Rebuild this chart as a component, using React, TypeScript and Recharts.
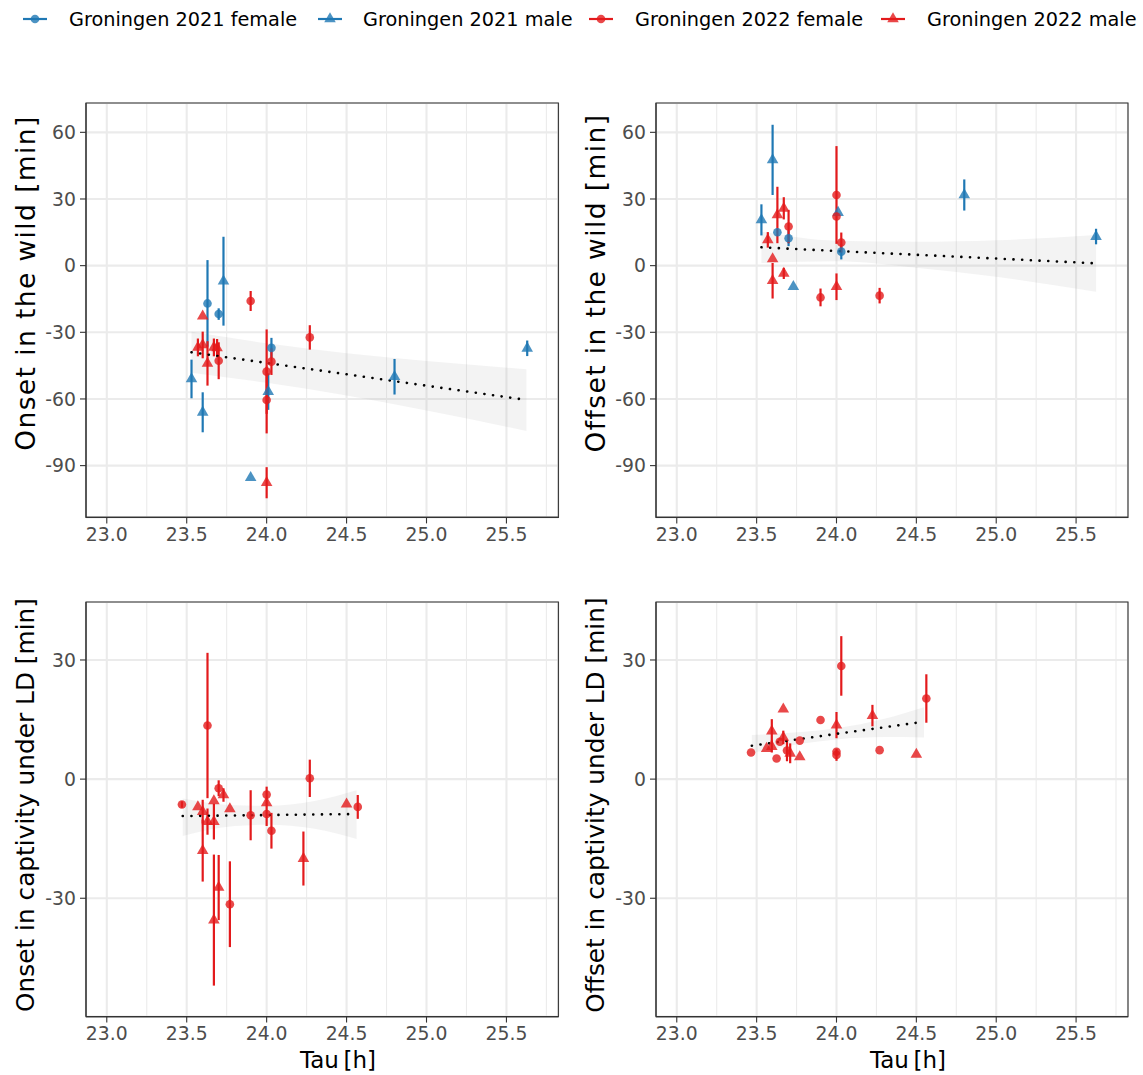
import React from 'react';
import { ComposedChart, Scatter, XAxis, YAxis, CartesianGrid, ErrorBar, Line, Area, ReferenceArea } from 'recharts';

const BLUE = '#1F78B4';
const RED = '#E31A1C';
const FONT = '"DejaVu Sans", sans-serif';

// ---- axis ticks ----
const X_TICKS = [23, 23.5, 24, 24.5, 25, 25.5];
const X_MINOR = [23.25, 23.75, 24.25, 24.75, 25.25, 25.75];
const X_DOMAIN = [22.87, 25.825];
const Y_TICKS_WILD = [-90, -60, -30, 0, 30, 60];
const Y_DOMAIN_WILD = [-113.3, 73.2];
const Y_TICKS_LD = [-30, 0, 30];
const Y_DOMAIN_LD = [-59.8, 44.6];

// ---- Onset in the wild ----
const onsetWild2021F = [
  { x: 23.63, y: -17, e: 19.5 },
  { x: 23.70, y: -21.8, e: 2.6 },
  { x: 24.03, y: -37, e: 4.5 },
];
const onsetWild2021M = [
  { x: 23.53, y: -51, e: 8.7 },
  { x: 23.60, y: -66, e: 9 },
  { x: 23.73, y: -7, e: 20 },
  { x: 23.90, y: -95.4, e: 0 },
  { x: 24.01, y: -56.7, e: 8.2 },
  { x: 24.80, y: -50, e: 8 },
  { x: 25.63, y: -37.2, e: 3.5 },
];
const onsetWild2022F = [
  { x: 23.70, y: -42.8, e: 8.3 },
  { x: 23.90, y: -15.9, e: 4.5 },
  { x: 24.00, y: -47.7, e: 19 },
  { x: 24.00, y: -60.5, e: 15 },
  { x: 24.03, y: -43.2, e: 6 },
  { x: 24.27, y: -32.3, e: 5.5 },
];
const onsetWild2022M = [
  { x: 23.57, y: -36.8, e: 4 },
  { x: 23.60, y: -22.7, e: 0 },
  { x: 23.60, y: -35.7, e: 6 },
  { x: 23.63, y: -44, e: 10 },
  { x: 23.67, y: -36.8, e: 4 },
  { x: 23.69, y: -37, e: 4 },
  { x: 24.00, y: -97.7, e: 7 },
];
const onsetWildFit = [
  { x: 23.53, fit: -39, band: [-48.2, -29.8] },
  { x: 24.0, fit: -43.8, band: [-52.7, -34.9] },
  { x: 24.5, fit: -48.9, band: [-58.4, -39.4] },
  { x: 25.0, fit: -54.05, band: [-65.2, -42.9] },
  { x: 25.625, fit: -60.45, band: [-74.4, -46.6] },
];

// ---- Offset in the wild ----
const offsetWild2021F = [
  { x: 23.63, y: 15.0, e: 0 },
  { x: 23.70, y: 12.3, e: 3.5 },
  { x: 24.03, y: 6.3, e: 3.5 },
];
const offsetWild2021M = [
  { x: 23.53, y: 20.6, e: 7 },
  { x: 23.60, y: 47.6, e: 15.8 },
  { x: 23.73, y: -9.5, e: 0 },
  { x: 24.01, y: 23.9, e: 0 },
  { x: 24.80, y: 31.8, e: 7 },
  { x: 25.625, y: 13.1, e: 3.5 },
];
const offsetWild2022F = [
  { x: 23.70, y: 17.6, e: 7.5 },
  { x: 23.90, y: -14.3, e: 4 },
  { x: 24.00, y: 31.8, e: 22 },
  { x: 24.00, y: 22.1, e: 0 },
  { x: 24.03, y: 10.4, e: 4.5 },
  { x: 24.27, y: -13.5, e: 3.5 },
];
const offsetWild2022M = [
  { x: 23.57, y: 11.6, e: 3.5 },
  { x: 23.60, y: 3.0, e: 0 },
  { x: 23.60, y: -6.8, e: 8 },
  { x: 23.63, y: 22.8, e: 12.7 },
  { x: 23.67, y: 25.8, e: 5 },
  { x: 23.67, y: -3.5, e: 2.5 },
  { x: 24.00, y: -9.5, e: 6 },
];
const offsetWildFit = [
  { x: 23.53, fit: 8.25, band: [1.2, 15.3] },
  { x: 24.0, fit: 6.6, band: [2.0, 11.2] },
  { x: 24.5, fit: 4.9, band: [-0.9, 10.7] },
  { x: 25.0, fit: 3.2, band: [-5.0, 11.4] },
  { x: 25.625, fit: 1.05, band: [-11.7, 13.8] },
];

// ---- Onset in captivity under LD ----
const onsetLD2022F = [
  { x: 23.47, y: -6.4, e: 0.8 },
  { x: 23.63, y: 13.5, e: 18.3 },
  { x: 23.70, y: -2.3, e: 2 },
  { x: 23.77, y: -31.5, e: 10.8 },
  { x: 23.90, y: -9.1, e: 6.3 },
  { x: 24.00, y: -3.9, e: 2 },
  { x: 24.00, y: -8.8, e: 3 },
  { x: 24.03, y: -13.0, e: 4.5 },
  { x: 24.27, y: 0.2, e: 4.7 },
  { x: 24.57, y: -7.0, e: 3 },
];
const onsetLD2022M = [
  { x: 23.57, y: -7.0, e: 0 },
  { x: 23.60, y: -8.2, e: 3 },
  { x: 23.60, y: -18.0, e: 7.8 },
  { x: 23.63, y: -10.7, e: 3.3 },
  { x: 23.67, y: -5.5, e: 0 },
  { x: 23.67, y: -10.7, e: 4.5 },
  { x: 23.67, y: -35.5, e: 16.5 },
  { x: 23.70, y: -27.3, e: 8.2 },
  { x: 23.73, y: -4.0, e: 1.7 },
  { x: 23.77, y: -7.5, e: 0 },
  { x: 24.00, y: -6.0, e: 0 },
  { x: 24.23, y: -20.0, e: 6.8 },
  { x: 24.50, y: -6.3, e: 0 },
];
const onsetLDFit = [
  { x: 23.475, fit: -9.3, band: [-14.3, -4.9] },
  { x: 23.8, fit: -9.15, band: [-11.8, -6.6] },
  { x: 24.0, fit: -9.05, band: [-11.5, -6.7] },
  { x: 24.3, fit: -8.9, band: [-12.5, -5.5] },
  { x: 24.5625, fit: -8.8, band: [-15.1, -2.8] },
];

// ---- Offset in captivity under LD ----
const offsetLD2022F = [
  { x: 23.465, y: 6.7, e: 0 },
  { x: 23.625, y: 5.2, e: 0 },
  { x: 23.645, y: 9.4, e: 0 },
  { x: 23.69, y: 7.2, e: 2.7 },
  { x: 23.77, y: 9.7, e: 0 },
  { x: 23.90, y: 14.9, e: 0 },
  { x: 24.00, y: 6.9, e: 0 },
  { x: 24.00, y: 6.1, e: 1.5 },
  { x: 24.03, y: 28.5, e: 7.5 },
  { x: 24.27, y: 7.3, e: 0 },
  { x: 24.5625, y: 20.3, e: 6.1 },
];
const offsetLD2022M = [
  { x: 23.5625, y: 7.7, e: 0 },
  { x: 23.595, y: 12.1, e: 3 },
  { x: 23.595, y: 8.2, e: 1.5 },
  { x: 23.667, y: 17.6, e: 0 },
  { x: 23.667, y: 10.5, e: 1.7 },
  { x: 23.71, y: 6.5, e: 2.5 },
  { x: 23.77, y: 5.6, e: 0 },
  { x: 24.00, y: 13.6, e: 3.3 },
  { x: 24.225, y: 16.0, e: 2.7 },
  { x: 24.50, y: 6.2, e: 0 },
];
const offsetLDFit = [
  { x: 23.47, fit: 8.4, band: [6.6, 11.1] },
  { x: 23.8, fit: 10.25, band: [9.0, 11.9] },
  { x: 24.0, fit: 11.4, band: [10.0, 12.8] },
  { x: 24.3, fit: 13.05, band: [10.6, 15.2] },
  { x: 24.548, fit: 14.45, band: [10.5, 18.1] },
];

const LEGEND = [
  { label: 'Groningen 2021 female', color: BLUE, shape: 'circle' },
  { label: 'Groningen 2021 male', color: BLUE, shape: 'triangle' },
  { label: 'Groningen 2022 female', color: RED, shape: 'circle' },
  { label: 'Groningen 2022 male', color: RED, shape: 'triangle' },
];

const R = 4.3;

function makeShape(color: string, shape: string) {
  return (p: any) => {
    const { cx, cy } = p;
    if (cx == null || cy == null) return <g />;
    if (shape === 'circle') {
      return <circle cx={cx} cy={cy} r={R} fill={color} fillOpacity={0.8} />;
    }
    const r = 1.5551 * R;
    const xc = 1.3468 * R;
    const yc = 0.7776 * R;
    return (
      <polygon
        points={`${cx},${cy - r} ${cx + xc},${cy + yc} ${cx - xc},${cy + yc}`}
        fill={color}
        fillOpacity={0.8}
      />
    );
  };
}

type Series = { data: any[]; color: string; shape: string };

function Panel(props: {
  L: number; T: number; W: number; H: number;
  yDomain: number[]; yTicks: number[]; series: Series[]; fit: any[];
}) {
  const { L, T, W, H, yDomain, yTicks, series, fit } = props;
  const ML = 20, YW = 60, MT = 10, MR = 10, XH = 40;
  const tickStyle = { fill: '#4D4D4D', fontSize: 18.8, fontFamily: FONT };
  return (
    <div style={{ position: 'absolute', left: L - ML - YW, top: T - MT }}>
      <ComposedChart
        width={W + ML + YW + MR}
        height={H + MT + XH}
        data={fit}
        margin={{ top: MT, right: MR, bottom: 0, left: ML }}
      >
        <XAxis xAxisId="minor" type="number" dataKey="x" domain={X_DOMAIN} ticks={X_MINOR} hide allowDataOverflow />
        <CartesianGrid xAxisId="minor" horizontal={false} stroke="#EBEBEB" strokeWidth={1.1} />
        <CartesianGrid stroke="#EBEBEB" strokeWidth={2.1} />
        <XAxis
          type="number"
          dataKey="x"
          domain={X_DOMAIN}
          ticks={X_TICKS}
          interval={0}
          allowDataOverflow
          height={XH}
          tickFormatter={(v: number) => v.toFixed(1)}
          tick={tickStyle}
          tickSize={6}
          tickMargin={4}
          stroke="#333333"
          axisLine={{ stroke: '#333333', strokeWidth: 1.1 }}
          tickLine={{ stroke: '#333333', strokeWidth: 1.1 }}
        />
        <YAxis
          type="number"
          dataKey="y"
          domain={yDomain}
          ticks={yTicks}
          interval={0}
          allowDataOverflow
          width={YW}
          tick={tickStyle}
          tickSize={6}
          tickMargin={4}
          stroke="#333333"
          axisLine={{ stroke: '#333333', strokeWidth: 1.1 }}
          tickLine={{ stroke: '#333333', strokeWidth: 1.1 }}
        />
        <Area
          dataKey="band"
          type="monotone"
          fill="#999999"
          fillOpacity={0.12}
          stroke="none"
          isAnimationActive={false}
          activeDot={false}
        />
        {series.map((s, i) => (
          <Scatter
            key={i}
            data={s.data}
            fill={s.color}
            shape={makeShape(s.color, s.shape)}
            isAnimationActive={false}
          >
            <ErrorBar dataKey="e" direction="y" width={0} stroke={s.color} strokeWidth={2.2} />
          </Scatter>
        ))}
        <Line
          dataKey="fit"
          type="linear"
          stroke="#000000"
          strokeWidth={2.6}
          strokeDasharray="0.1 8.6"
          strokeLinecap="round"
          dot={false}
          activeDot={false}
          isAnimationActive={false}
        />
        <ReferenceArea
          x1={X_DOMAIN[0]}
          x2={X_DOMAIN[1]}
          y1={yDomain[0]}
          y2={yDomain[1]}
          fill="none"
          stroke="#333333"
          strokeWidth={1.1}
          ifOverflow="visible"
        />
      </ComposedChart>
    </div>
  );
}

function LegendItem({ item, mx, tx }: { item: any; mx: number; tx: number }) {
  const shapeFn = makeShape(item.color, item.shape);
  return (
    <>
      <svg style={{ position: 'absolute', left: mx - 14, top: 5 }} width={28} height={28}>
        <line x1={2} y1={14} x2={26} y2={14} stroke={item.color} strokeWidth={2.2} />
        {shapeFn({ cx: 14, cy: 14 })}
      </svg>
      <div
        style={{
          position: 'absolute',
          left: tx,
          top: 19,
          transform: 'translateY(-50%)',
          fontFamily: FONT,
          fontSize: 19.3,
          color: '#000',
          whiteSpace: 'nowrap',
        }}
      >
        {item.label}
      </div>
    </>
  );
}

function VTitle({ text, cx, cy, size, spacing }: { text: string; cx: number; cy: number; size: number; spacing: number }) {
  return (
    <div
      style={{
        position: 'absolute',
        left: cx,
        top: cy,
        transform: 'translate(-50%, -50%) rotate(-90deg)',
        fontFamily: FONT,
        fontSize: size,
        letterSpacing: spacing,
        color: '#000',
        whiteSpace: 'nowrap',
        lineHeight: 1,
      }}
    >
      {text}
    </div>
  );
}

function HTitle({ text, cx, cy }: { text: string; cx: number; cy: number }) {
  return (
    <div
      style={{
        position: 'absolute',
        left: cx,
        top: cy,
        transform: 'translate(-50%, -50%)',
        fontFamily: FONT,
        fontSize: 23,
        color: '#000',
        whiteSpace: 'nowrap',
        lineHeight: 1,
      }}
    >
      {text}
    </div>
  );
}

export default function App() {
  const legendMx = [35, 330, 601, 893];
  const legendTx = [69, 363, 635, 927];
  return (
    <div style={{ position: 'absolute', left: 0, top: 0, width: 1143, height: 1075, background: '#fff' }}>
      {LEGEND.map((it, i) => (
        <LegendItem key={i} item={it} mx={legendMx[i]} tx={legendTx[i]} />
      ))}
      <Panel
        L={85.9} T={103.3} W={472.4} H={414.4}
        yDomain={Y_DOMAIN_WILD} yTicks={Y_TICKS_WILD}
        series={[
          { data: onsetWild2021F, color: BLUE, shape: 'circle' },
          { data: onsetWild2021M, color: BLUE, shape: 'triangle' },
          { data: onsetWild2022F, color: RED, shape: 'circle' },
          { data: onsetWild2022M, color: RED, shape: 'triangle' },
        ]}
        fit={onsetWildFit}
      />
      <Panel
        L={655.7} T={103.3} W={472} H={414.4}
        yDomain={Y_DOMAIN_WILD} yTicks={Y_TICKS_WILD}
        series={[
          { data: offsetWild2021F, color: BLUE, shape: 'circle' },
          { data: offsetWild2021M, color: BLUE, shape: 'triangle' },
          { data: offsetWild2022F, color: RED, shape: 'circle' },
          { data: offsetWild2022M, color: RED, shape: 'triangle' },
        ]}
        fit={offsetWildFit}
      />
      <Panel
        L={85.9} T={602} W={472.4} H={414.6}
        yDomain={Y_DOMAIN_LD} yTicks={Y_TICKS_LD}
        series={[
          { data: onsetLD2022F, color: RED, shape: 'circle' },
          { data: onsetLD2022M, color: RED, shape: 'triangle' },
        ]}
        fit={onsetLDFit}
      />
      <Panel
        L={655.7} T={602} W={472} H={414.6}
        yDomain={Y_DOMAIN_LD} yTicks={Y_TICKS_LD}
        series={[
          { data: offsetLD2022F, color: RED, shape: 'circle' },
          { data: offsetLD2022M, color: RED, shape: 'triangle' },
        ]}
        fit={offsetLDFit}
      />
      <VTitle text="Onset in the wild [min]" cx={26} cy={283} size={26.5} spacing={1.4} />
      <VTitle text="Offset in the wild [min]" cx={596} cy={283} size={26.5} spacing={1.4} />
      <VTitle text="Onset in captivity under LD [min]" cx={26} cy={805} size={24.8} spacing={0} />
      <VTitle text="Offset in captivity under LD [min]" cx={596} cy={805} size={24.8} spacing={0} />
      <HTitle text={'Tau\u2009[h]'} cx={338} cy={1060} />
      <HTitle text={'Tau\u2009[h]'} cx={908} cy={1060} />
    </div>
  );
}
